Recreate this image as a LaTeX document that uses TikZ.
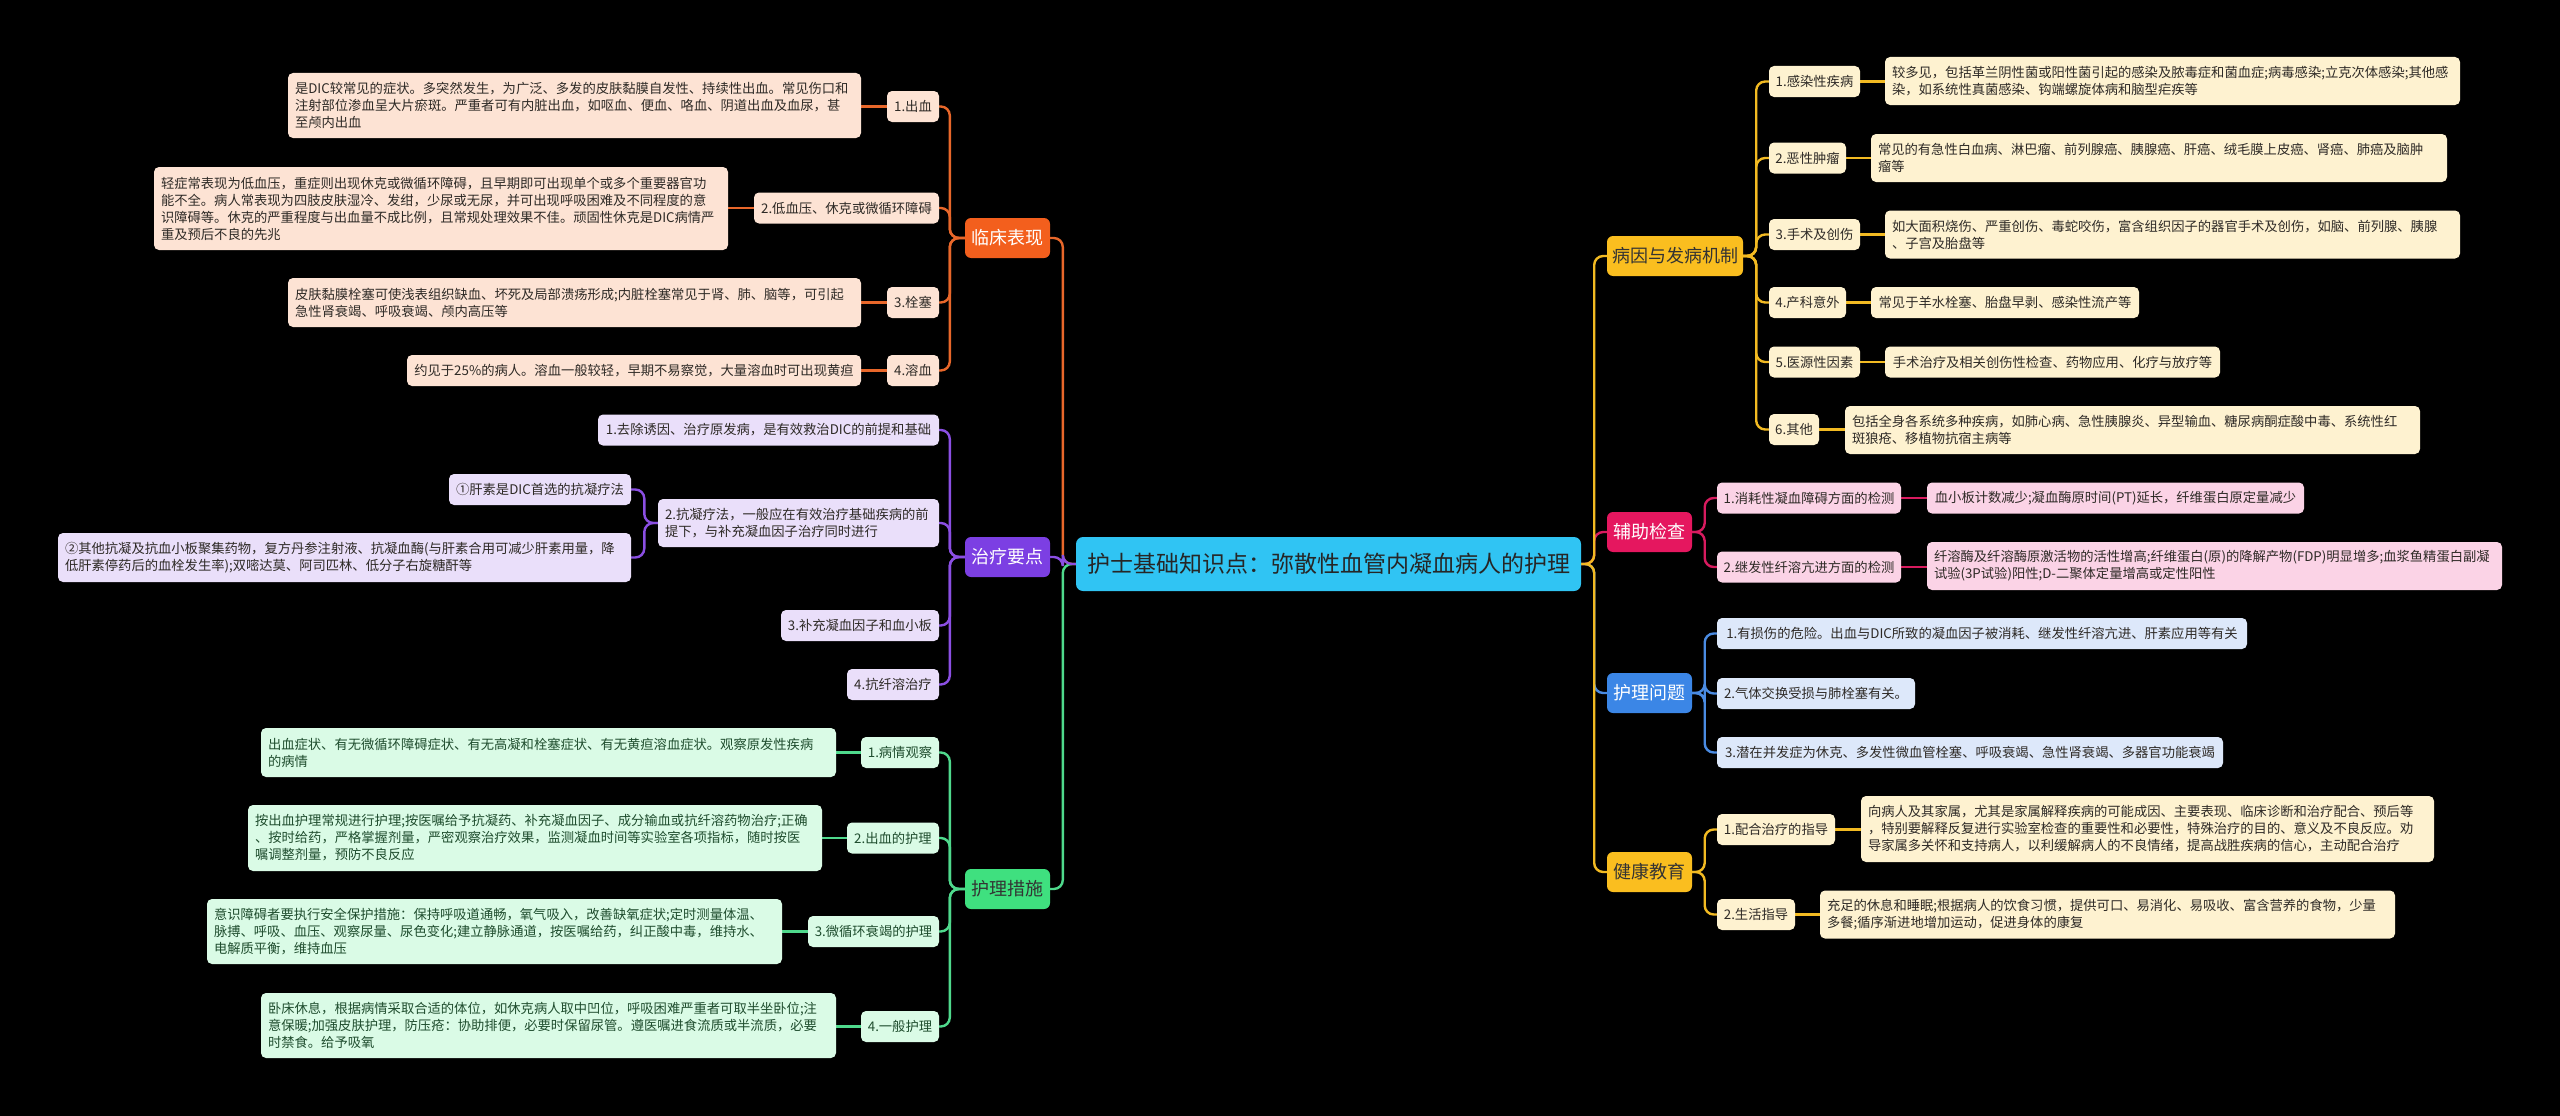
\documentclass[tikz,border=0pt]{standalone}
\usepackage{fontspec}
\setmainfont{Noto Sans CJK SC}
\pgfdeclarelayer{bg}
\pgfsetlayers{bg,main}
\definecolor{oLine}{HTML}{E8672A}
\definecolor{oMain}{HTML}{F35F1D}
\definecolor{oSub}{HTML}{FDE3D4}
\definecolor{pLine}{HTML}{8B4FE3}
\definecolor{pMain}{HTML}{7C3FE3}
\definecolor{pSub}{HTML}{EADFFA}
\definecolor{gLine}{HTML}{4FD98C}
\definecolor{gMain}{HTML}{3FE07F}
\definecolor{gSub}{HTML}{DAFBE6}
\definecolor{gTxt}{HTML}{1F4D2E}
\definecolor{rootC}{HTML}{30C4F3}
\definecolor{yLine}{HTML}{F2BA22}
\definecolor{yMain}{HTML}{FABE1F}
\definecolor{ySub}{HTML}{FEF2D0}
\definecolor{kLine}{HTML}{D81B5F}
\definecolor{kMain}{HTML}{E5175F}
\definecolor{kSub}{HTML}{FBD3E6}
\definecolor{bLine}{HTML}{4A8BE2}
\definecolor{bMain}{HTML}{3B86E6}
\definecolor{bSub}{HTML}{DDE8FA}
\definecolor{dTxt}{HTML}{2E2A26}
\begin{document}
\begin{tikzpicture}[x=1pt,y=-1pt,
  box/.style={rounded corners=5pt, inner sep=0pt, font=\fontsize{13.3}{17}\selectfont, text=dTxt},
  lbl/.style={box, minimum height=31pt, align=center},
  txt/.style={box, align=left, inner xsep=7pt, inner ysep=0pt},
  mainnode/.style={rounded corners=6pt, inner sep=0pt, minimum height=40pt, minimum width=85pt, font=\fontsize{18}{22}\selectfont, align=center},
  conn/.style={line width=2.4pt, rounded corners=9pt},
  osub/.style={fill=oSub}, psub/.style={fill=pSub}, gsub/.style={fill=gSub, text=gTxt},
  ysub/.style={fill=ySub}, ksub/.style={fill=kSub}, bsub/.style={fill=bSub}
]
\useasboundingbox (0,0) rectangle (2560,1116);
% root
\node[rounded corners=7pt, fill=rootC, minimum width=505pt, minimum height=54pt, inner sep=0pt, font=\fontsize{23}{27}\selectfont, text=black!85] (root) at (1328.5,564) {护士基础知识点：弥散性血管内凝血病人的护理};
% left mains
\node[mainnode, fill=oMain, text=white] (L1) at (1007.5,238) {临床表现};
\node[mainnode, fill=pMain, text=white] (L2) at (1007.5,557) {治疗要点};
\node[mainnode, fill=gMain, text=black!80] (L3) at (1007.5,889) {护理措施};
% orange
\node[lbl, osub, minimum width=52pt] (a1) at (913,106.5) {1.出血};
\node[lbl, osub, minimum width=185pt] (a2) at (846.5,208) {2.低血压、休克或微循环障碍};
\node[lbl, osub, minimum width=52pt] (a3) at (913,302.5) {3.栓塞};
\node[lbl, osub, minimum width=52pt] (a4) at (913,370.5) {4.溶血};
\node[txt, osub, text width=559pt, minimum height=65pt] (at1) at (574.5,105.5) {是DIC较常见的症状。多突然发生，为广泛、多发的皮肤黏膜自发性、持续性出血。常见伤口和\\注射部位渗血呈大片瘀斑。严重者可有内脏出血，如呕血、便血、咯血、阴道出血及血尿，甚\\至颅内出血};
\node[txt, osub, text width=560pt, minimum height=83pt] (at2) at (441,208.5) {轻症常表现为低血压，重症则出现休克或微循环障碍，且早期即可出现单个或多个重要器官功\\能不全。病人常表现为四肢皮肤湿冷、发绀，少尿或无尿，并可出现呼吸困难及不同程度的意\\识障碍等。休克的严重程度与出血量不成比例，且常规处理效果不佳。顽固性休克是DIC病情严\\重及预后不良的先兆};
\node[txt, osub, text width=559pt, minimum height=49pt] (at3) at (574.5,302.5) {皮肤黏膜栓塞可使浅表组织缺血、坏死及局部溃疡形成;内脏栓塞常见于肾、肺、脑等，可引起\\急性肾衰竭、呼吸衰竭、颅内高压等};
\node[lbl, osub, minimum width=454pt] (at4) at (634,370.5) {约见于25\%的病人。溶血一般较轻，早期不易察觉，大量溶血时可出现黄疸};
% purple
\node[lbl, psub, minimum width=341pt] (b1) at (768.5,430) {1.去除诱因、治疗原发病，是有效救治DIC的前提和基础};
\node[txt, psub, text width=267pt, minimum height=48pt] (b2) at (798.5,523) {2.抗凝疗法，一般应在有效治疗基础疾病的前\\提下，与补充凝血因子治疗同时进行};
\node[lbl, psub, minimum width=182pt] (b2a) at (540,489.5) {①肝素是DIC首选的抗凝疗法};
\node[txt, psub, text width=559pt, minimum height=49pt] (b2b) at (344.5,557.5) {②其他抗凝及抗血小板聚集药物，复方丹参注射液、抗凝血酶(与肝素合用可减少肝素用量，降\\低肝素停药后的血栓发生率);双嘧达莫、阿司匹林、低分子右旋糖酐等};
\node[lbl, psub, minimum width=158pt] (b3) at (860,625.5) {3.补充凝血因子和血小板};
\node[lbl, psub, minimum width=92pt] (b4) at (893,684.5) {4.抗纤溶治疗};
% green
\node[lbl, gsub, minimum width=78pt] (c1) at (900,752.5) {1.病情观察};
\node[txt, gsub, text width=561pt, minimum height=49pt] (c1t) at (548.5,752.5) {出血症状、有无微循环障碍症状、有无高凝和栓塞症状、有无黄疸溶血症状。观察原发性疾病\\的病情};
\node[lbl, gsub, minimum width=92pt] (c2) at (893,838) {2.出血的护理};
\node[txt, gsub, text width=560pt, minimum height=66pt] (c2t) at (535,838) {按出血护理常规进行护理;按医嘱给予抗凝药、补充凝血因子、成分输血或抗纤溶药物治疗;正确\\、按时给药，严格掌握剂量，严密观察治疗效果，监测凝血时间等实验室各项指标，随时按医\\嘱调整剂量，预防不良反应};
\node[lbl, gsub, minimum width=131pt] (c3) at (873.5,931.5) {3.微循环衰竭的护理};
\node[txt, gsub, text width=561pt, minimum height=65pt] (c3t) at (494.5,931.5) {意识障碍者要执行安全保护措施：保持呼吸道通畅，氧气吸入，改善缺氧症状;定时测量体温、\\脉搏、呼吸、血压、观察尿量、尿色变化;建立静脉通道，按医嘱给药，纠正酸中毒，维持水、\\电解质平衡，维持血压};
\node[lbl, gsub, minimum width=78pt] (c4) at (900,1026.5) {4.一般护理};
\node[txt, gsub, text width=561pt, minimum height=65pt] (c4t) at (548.5,1025.5) {卧床休息，根据病情采取合适的体位，如休克病人取中凹位，呼吸困难严重者可取半坐卧位;注\\意保暖;加强皮肤护理，防压疮：协助排便，必要时保留尿管。遵医嘱进食流质或半流质，必要\\时禁食。给予吸氧};
% right mains
\node[mainnode, fill=yMain, text=black!80, minimum width=136pt] (R1) at (1675,256) {病因与发病机制};
\node[mainnode, fill=kMain, text=white] (R2) at (1649.5,532) {辅助检查};
\node[mainnode, fill=bMain, text=white] (R3) at (1649.5,693) {护理问题};
\node[mainnode, fill=yMain, text=black!80] (R4) at (1649.5,872) {健康教育};
% yellow
\node[lbl, ysub, minimum width=91pt] (d1) at (1814.5,81.5) {1.感染性疾病};
\node[txt, ysub, text width=561pt, minimum height=48pt] (d1t) at (2172.5,81) {较多见，包括革兰阴性菌或阳性菌引起的感染及脓毒症和菌血症;病毒感染;立克次体感染;其他感\\染，如系统性真菌感染、钩端螺旋体病和脑型疟疾等};
\node[lbl, ysub, minimum width=77pt] (d2) at (1807.5,158) {2.恶性肿瘤};
\node[txt, ysub, text width=562pt, minimum height=48pt] (d2t) at (2159,158) {常见的有急性白血病、淋巴瘤、前列腺癌、胰腺癌、肝癌、绒毛膜上皮癌、肾癌、肺癌及脑肿\\瘤等};
\node[lbl, ysub, minimum width=91pt] (d3) at (1814.5,234.5) {3.手术及创伤};
\node[txt, ysub, text width=561pt, minimum height=48pt] (d3t) at (2172.5,234.5) {如大面积烧伤、严重创伤、毒蛇咬伤，富含组织因子的器官手术及创伤，如脑、前列腺、胰腺\\、子宫及胎盘等};
\node[lbl, ysub, minimum width=77pt] (d4) at (1807.5,302.5) {4.产科意外};
\node[lbl, ysub, minimum width=268pt] (d4t) at (2005,302.5) {常见于羊水栓塞、胎盘早剥、感染性流产等};
\node[lbl, ysub, minimum width=91pt] (d5) at (1814.5,362) {5.医源性因素};
\node[lbl, ysub, minimum width=335pt] (d5t) at (2052.5,362) {手术治疗及相关创伤性检查、药物应用、化疗与放疗等};
\node[lbl, ysub, minimum width=50pt] (d6) at (1794,429.5) {6.其他};
\node[txt, ysub, text width=561pt, minimum height=48pt] (d6t) at (2132.5,430) {包括全身各系统多种疾病，如肺心病、急性胰腺炎、异型输血、糖尿病酮症酸中毒、系统性红\\斑狼疮、移植物抗宿主病等};
% pink
\node[lbl, ksub, minimum width=184pt] (e1) at (1809,498) {1.消耗性凝血障碍方面的检测};
\node[lbl, ksub, minimum width=377pt] (e1t) at (2115.5,498) {血小板计数减少;凝血酶原时间(PT)延长，纤维蛋白原定量减少};
\node[lbl, ksub, minimum width=184pt] (e2) at (1809,567) {2.继发性纤溶亢进方面的检测};
\node[txt, ksub, text width=561pt, minimum height=48pt] (e2t) at (2214.5,566) {纤溶酶及纤溶酶原激活物的活性增高;纤维蛋白(原)的降解产物(FDP)明显增多;血浆鱼精蛋白副凝\\试验(3P试验)阳性;D-二聚体定量增高或定性阳性};
% blue
\node[lbl, bsub, minimum width=530pt] (f1) at (1982,633.5) {1.有损伤的危险。出血与DIC所致的凝血因子被消耗、继发性纤溶亢进、肝素应用等有关};
\node[lbl, bsub, minimum width=198pt] (f2) at (1816,693.5) {2.气体交换受损与肺栓塞有关。};
\node[lbl, bsub, minimum width=506pt] (f3) at (1970,752.5) {3.潜在并发症为休克、多发性微血管栓塞、呼吸衰竭、急性肾衰竭、多器官功能衰竭};
% yellow 2
\node[lbl, ysub, minimum width=118pt] (g1) at (1776,829.5) {1.配合治疗的指导};
\node[txt, ysub, text width=559pt, minimum height=66pt] (g1t) at (2147.5,829) {向病人及其家属，尤其是家属解释疾病的可能成因、主要表现、临床诊断和治疗配合、预后等\\，特别要解释反复进行实验室检查的重要性和必要性，特殊治疗的目的、意义及不良反应。劝\\导家属多关怀和支持病人，以利缓解病人的不良情绪，提高战胜疾病的信心，主动配合治疗};
\node[lbl, ysub, minimum width=78pt] (g2) at (1756,914.5) {2.生活指导};
\node[txt, ysub, text width=561pt, minimum height=48pt] (g2t) at (2107.5,914.5) {充足的休息和睡眠;根据病人的饮食习惯，提供可口、易消化、易吸收、富含营养的食物，少量\\多餐;循序渐进地增加运动，促进身体的康复};

\begin{pgfonlayer}{bg}
\fill[black] (0,0) rectangle (2560,1116);
% root to left mains
\draw[conn, oLine] (root.west) -- ++(-13,0) |- (L1.east);
\draw[conn, gLine] (root.west) -- ++(-13,0) |- (L3.east);
\draw[conn, pLine] (root.west) -- ++(-13,0) |- (L2.east);
% root to right mains
\draw[conn, bLine] (root.east) -- ++(13,0) |- (R3.west);
\draw[conn, kLine] (root.east) -- ++(13,0) |- (R2.west);
\draw[conn, yLine] (root.east) -- ++(13,0) |- (R1.west);
\draw[conn, yLine] (root.east) -- ++(13,0) |- (R4.west);
% orange
\foreach \c in {a1,a2,a3,a4} \draw[conn, oLine] (L1.west) -- ++(-15,0) |- (\c.east);
\foreach \c/\t in {a1/at1,a2/at2,a3/at3,a4/at4} \draw[conn, oLine] (\c.west) -- (\c.west -| \t.east);
% purple
\foreach \c in {b1,b2,b3,b4} \draw[conn, pLine] (L2.west) -- ++(-15,0) |- (\c.east);
\foreach \c in {b2a,b2b} \draw[conn, pLine] (b2.west) -- ++(-13.5,0) |- (\c.east);
% green
\foreach \c in {c1,c2,c3,c4} \draw[conn, gLine] (L3.west) -- ++(-15,0) |- (\c.east);
\foreach \c/\t in {c1/c1t,c2/c2t,c3/c3t,c4/c4t} \draw[conn, gLine] (\c.west) -- (\c.west -| \t.east);
% yellow R1
\foreach \c in {d1,d2,d3,d4,d5,d6} \draw[conn, yLine] (R1.east) -- ++(13,0) |- (\c.west);
\foreach \c/\t in {d1/d1t,d2/d2t,d3/d3t,d4/d4t,d5/d5t,d6/d6t} \draw[conn, yLine] (\c.east) -- (\c.east -| \t.west);
% pink
\foreach \c in {e1,e2} \draw[conn, kLine] (R2.east) -- ++(12.5,0) |- (\c.west);
\foreach \c/\t in {e1/e1t,e2/e2t} \draw[conn, kLine] (\c.east) -- (\c.east -| \t.west);
% blue
\foreach \c in {f1,f2,f3} \draw[conn, bLine] (R3.east) -- ++(12.5,0) |- (\c.west);
% yellow R4
\foreach \c in {g1,g2} \draw[conn, yLine] (R4.east) -- ++(12.5,0) |- (\c.west);
\foreach \c/\t in {g1/g1t,g2/g2t} \draw[conn, yLine] (\c.east) -- (\c.east -| \t.west);
\end{pgfonlayer}
\end{tikzpicture}
\end{document}
